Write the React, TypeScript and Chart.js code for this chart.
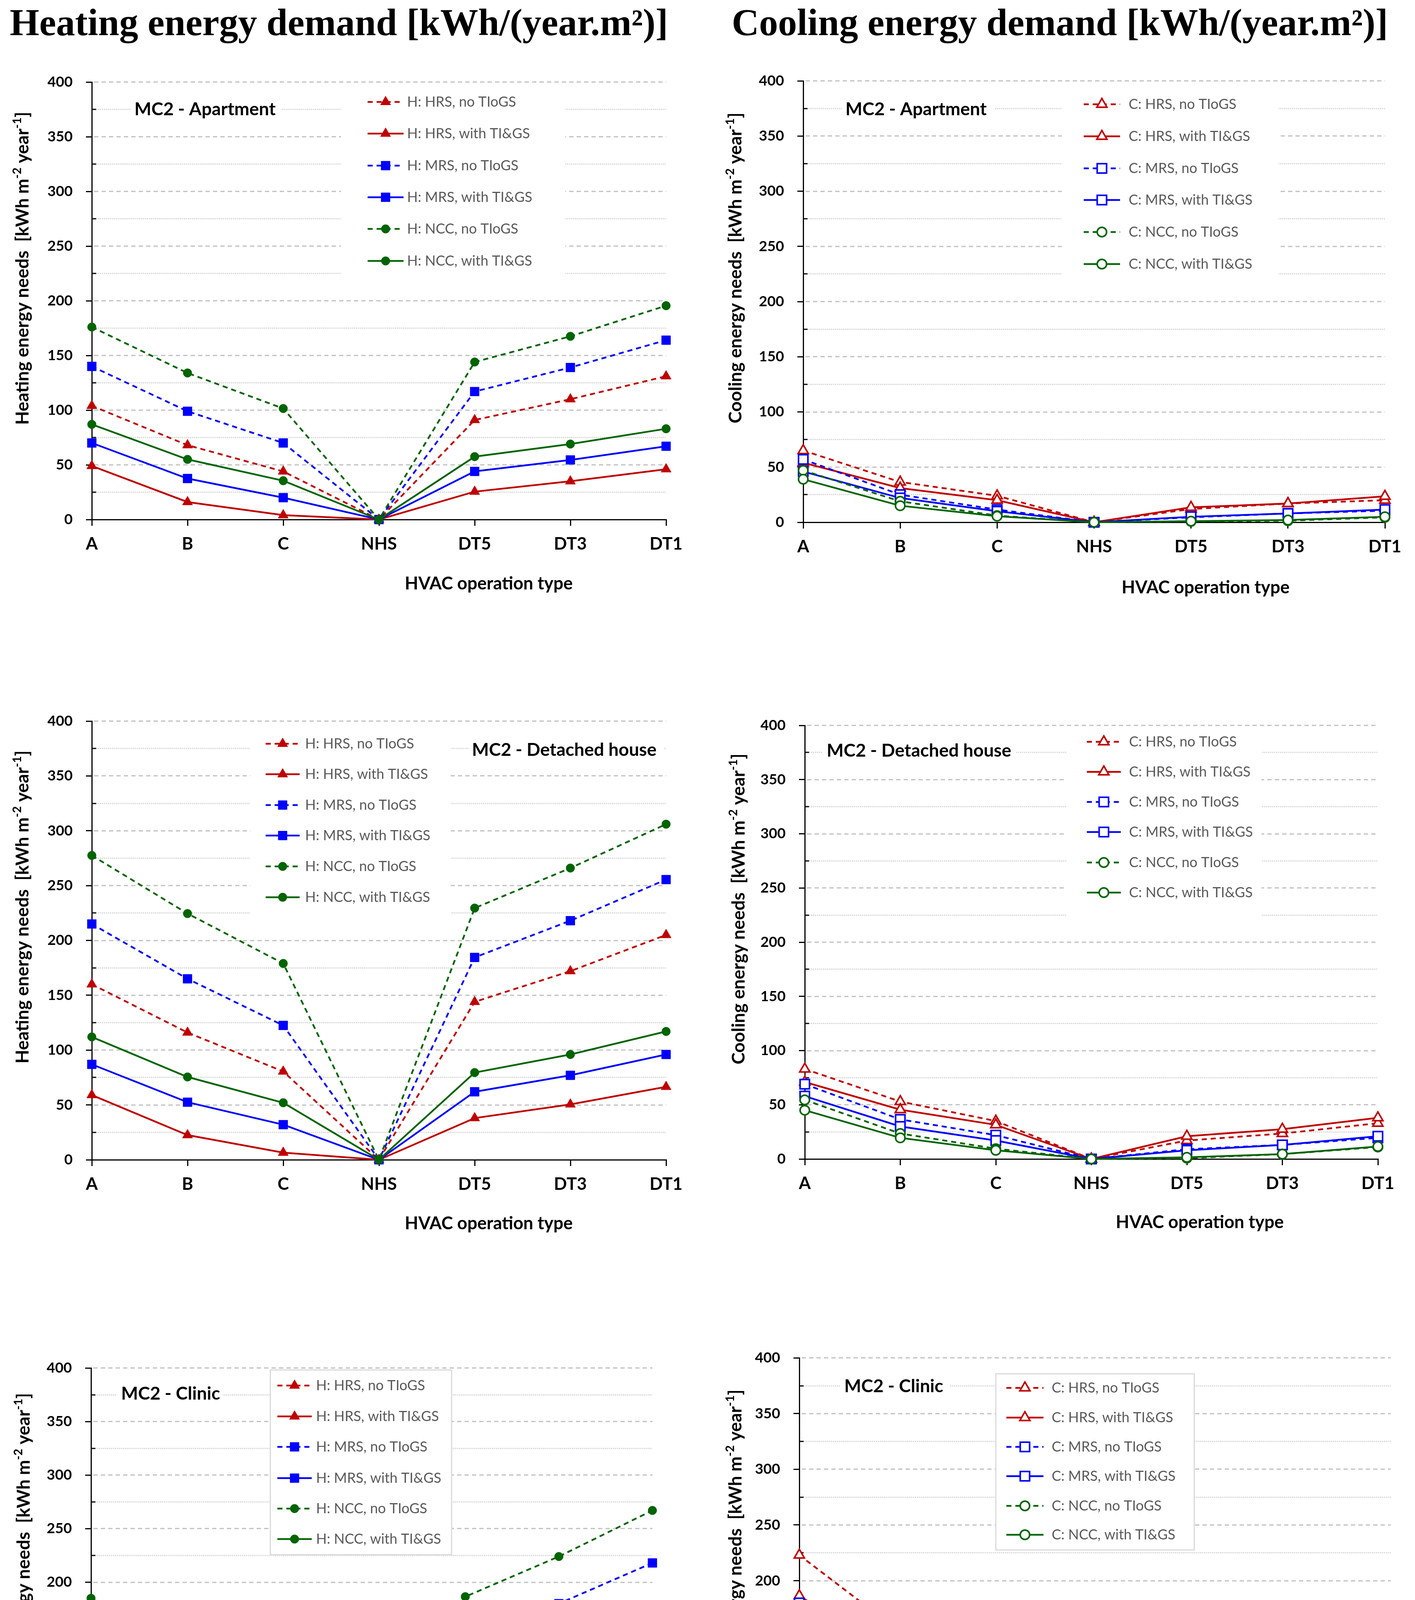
import React, { useEffect, useRef } from 'react';
import { Chart, registerables } from 'chart.js';
import { drawPoint } from 'chart.js/helpers';

Chart.register(...registerables);

// ---------- data ----------
const categories = ['A', 'B', 'C', 'NHS', 'DT5', 'DT3', 'DT1'];
const yTickValues = [0, 50, 100, 150, 200, 250, 300, 350, 400];
const minorGridValues = [25, 75, 125, 175, 225, 275, 325, 375];

const heatingLabels = ['H: HRS, no TIoGS', 'H: HRS, with TI&GS', 'H: MRS, no TIoGS', 'H: MRS, with TI&GS', 'H: NCC, no TIoGS', 'H: NCC, with TI&GS'];
const coolingLabels = ['C: HRS, no TIoGS', 'C: HRS, with TI&GS', 'C: MRS, no TIoGS', 'C: MRS, with TI&GS', 'C: NCC, no TIoGS', 'C: NCC, with TI&GS'];

// Heating – Apartment
const hApHrsNo = [104, 68, 44, 0, 91, 110, 131];
const hApHrsWith = [49, 16, 4, 0, 25.5, 35, 46];
const hApMrsNo = [140, 99, 70, 0, 117, 139, 164];
const hApMrsWith = [70, 37.5, 20, 0, 44, 54.5, 67];
const hApNccNo = [176, 134, 101.5, 0, 144, 167.5, 195.5];
const hApNccWith = [87, 55, 35.5, 0, 57.5, 69, 83];

// Cooling – Apartment
const cApHrsNo = [65, 36.5, 24, 0, 12, 17, 20];
const cApHrsWith = [54, 31, 20, 0, 13.5, 17, 23.5];
const cApMrsNo = [57, 25, 11.5, 0, 4.5, 8, 10.5];
const cApMrsWith = [46, 22, 10, 0, 5, 8, 11.5];
const cApNccNo = [47, 19, 6, 0, 0.8, 1.4, 4.5];
const cApNccWith = [39, 15, 5.5, 0, 1, 2, 5];

// Heating – Detached house
const hDhHrsNo = [160, 116, 80.5, 0, 144, 172, 205];
const hDhHrsWith = [59, 22.5, 6.5, 0, 38, 50.5, 66.5];
const hDhMrsNo = [215, 165, 122.5, 0, 184.5, 218, 255.5];
const hDhMrsWith = [87, 52.5, 32, 0, 62, 77, 96];
const hDhNccNo = [277.5, 224.5, 179, 0, 229.5, 266, 306];
const hDhNccWith = [112, 75.5, 52, 0, 79.5, 96, 117];

// Cooling – Detached house
const cDhHrsNo = [83, 53, 35, 0, 17, 23.5, 33];
const cDhHrsWith = [71, 45.5, 31.5, 0, 21, 27.5, 38];
const cDhMrsNo = [69, 36.5, 22, 0, 9, 13, 19.5];
const cDhMrsWith = [58, 30, 17, 0, 8, 13, 21];
const cDhNccNo = [54.5, 23.5, 9.5, 0, 0.8, 4.5, 11];
const cDhNccWith = [45, 19.5, 8, 0, 1.5, 4.5, 11.5];

// Heating – Clinic
const hClHrsNo = [104, 66, 37.5, 0, 98, 127, 160];
const hClHrsWith = [72.5, 27.5, 7.5, 0, 41.5, 59, 80];
const hClMrsNo = [157, 109.5, 73.5, 0, 146.5, 180, 218];
const hClMrsWith = [107, 56.5, 28, 0, 62, 82, 107];
const hClNccNo = [185, 135, 100, 0, 186.5, 224, 267];
const hClNccWith = [132, 76, 42, 0, 81, 101, 131];

// Cooling – Clinic
const cClHrsNo = [223, 155.5, 108, 0, 55, 67.5, 84];
const cClHrsWith = [186.5, 130.5, 90, 0, 61.5, 75.5, 93.5];
const cClMrsNo = [180, 116, 76, 0, 32.5, 42, 57];
const cClMrsWith = [150.5, 97, 63, 0, 36, 47, 63];
const cClNccNo = [148, 87, 48, 0, 14.5, 21, 33];
const cClNccWith = [123.5, 73, 39, 0, 16, 24, 37.5];

// ---------- styles ----------
const RED = '#C00000';
const BLUE = '#0000FF';
const GREEN = '#006400';
const FONT = 'Lato, "Open Sans", sans-serif';
const seriesColors = [RED, RED, BLUE, BLUE, GREEN, GREEN];
const seriesDashed = [true, false, true, false, true, false];
const seriesShapes = ['triangle', 'triangle', 'rect', 'rect', 'circle', 'circle'];

type Box = { left: number; top: number; width: number; height: number };
type PanelCfg = {
  kind: 'H' | 'C';
  canvas: Box;
  area: { L: number; R: number; T: number; B: number };
  series: number[][];
  label: { text: string; x: number; y: number; boxL: number; boxR: number };
  legend: { boxL: number; boxR: number; boxT: number; boxB: number; border: boolean; rows: number[]; sx1: number; sx2: number; tx: number };
  xTitle: { cx: number; cy: number };
  yTitle: { cx: number; cy: number };
};

const panels: PanelCfg[] = [
  {
    kind: 'H',
    canvas: { left: 0, top: 150, width: 1790, height: 1420 },
    area: { L: 235, R: 1705, T: 210, B: 1330 },
    series: [hApHrsNo, hApHrsWith, hApMrsNo, hApMrsWith, hApNccNo, hApNccWith],
    label: { text: 'MC2 - Apartment', x: 344, y: 280, boxL: 335, boxR: 720 },
    legend: { boxL: 873, boxR: 1447, boxT: 232, boxB: 735, border: false, rows: [261, 342, 424, 505, 586, 668], sx1: 941, sx2: 1033, tx: 1042 },
    xTitle: { cx: 1251, cy: 1494 },
    yTitle: { cx: 57, cy: 687 },
  },
  {
    kind: 'C',
    canvas: { left: 1810, top: 150, width: 1812, height: 1420 },
    area: { L: 2056, R: 3545, T: 207, B: 1337 },
    series: [cApHrsNo, cApHrsWith, cApMrsNo, cApMrsWith, cApNccNo, cApNccWith],
    label: { text: 'MC2 - Apartment', x: 2164, y: 280, boxL: 2155, boxR: 2545 },
    legend: { boxL: 2718, boxR: 3273, boxT: 232, boxB: 738, border: false, rows: [267, 349, 431, 512, 594, 676], sx1: 2774, sx2: 2867, tx: 2889 },
    xTitle: { cx: 3086, cy: 1504 },
    yTitle: { cx: 1882, cy: 686 },
  },
  {
    kind: 'H',
    canvas: { left: 0, top: 1780, width: 1790, height: 1420 },
    area: { L: 235, R: 1705, T: 1846, B: 2969 },
    series: [hDhHrsNo, hDhHrsWith, hDhMrsNo, hDhMrsWith, hDhNccNo, hDhNccWith],
    label: { text: 'MC2 - Detached house', x: 1208, y: 1920, boxL: 1200, boxR: 1700 },
    legend: { boxL: 641, boxR: 1154, boxT: 1868, boxB: 2352, border: false, rows: [1904, 1982, 2061, 2139, 2218, 2297], sx1: 680, sx2: 767, tx: 781 },
    xTitle: { cx: 1251, cy: 3132 },
    yTitle: { cx: 57, cy: 2322 },
  },
  {
    kind: 'C',
    canvas: { left: 1810, top: 1780, width: 1812, height: 1420 },
    area: { L: 2060, R: 3527, T: 1857, B: 2967 },
    series: [cDhHrsNo, cDhHrsWith, cDhMrsNo, cDhMrsWith, cDhNccNo, cDhNccWith],
    label: { text: 'MC2 - Detached house', x: 2116, y: 1922, boxL: 2105, boxR: 2600 },
    legend: { boxL: 2730, boxR: 3229, boxT: 1868, boxB: 2356, border: false, rows: [1899, 1976, 2053, 2130, 2208, 2285], sx1: 2782, sx2: 2869, tx: 2890 },
    xTitle: { cx: 3071, cy: 3129 },
    yTitle: { cx: 1890, cy: 2327 },
  },
  {
    kind: 'H',
    canvas: { left: 0, top: 3420, width: 1790, height: 1400 },
    area: { L: 233, R: 1670, T: 3502, B: 4599 },
    series: [hClHrsNo, hClHrsWith, hClMrsNo, hClMrsWith, hClNccNo, hClNccWith],
    label: { text: 'MC2 - Clinic', x: 310, y: 3568, boxL: 300, boxR: 570 },
    legend: { boxL: 692, boxR: 1156, boxT: 3507, boxB: 3980, border: true, rows: [3547, 3626, 3704, 3784, 3862, 3940], sx1: 710, sx2: 798, tx: 809 },
    xTitle: { cx: 1228, cy: 4757 },
    yTitle: { cx: 60, cy: 3967 },
  },
  {
    kind: 'C',
    canvas: { left: 1810, top: 3420, width: 1812, height: 1411 },
    area: { L: 2046, R: 3560, T: 3475, B: 4617 },
    series: [cClHrsNo, cClHrsWith, cClMrsNo, cClMrsWith, cClNccNo, cClNccWith],
    label: { text: 'MC2 - Clinic', x: 2161, y: 3549, boxL: 2150, boxR: 2430 },
    legend: { boxL: 2549, boxR: 3057, boxT: 3517, boxB: 3968, border: true, rows: [3553, 3629, 3704, 3779, 3855, 3929], sx1: 2576, sx2: 2671, tx: 2692 },
    xTitle: { cx: 3098, cy: 4780 },
    yTitle: { cx: 1882, cy: 3955 },
  },
];

function line(ctx: CanvasRenderingContext2D, x1: number, y1: number, x2: number, y2: number) {
  ctx.beginPath();
  ctx.moveTo(x1, y1);
  ctx.lineTo(x2, y2);
  ctx.stroke();
}

function makePlugin(cfg: PanelCfg) {
  const ox = cfg.canvas.left;
  const oy = cfg.canvas.top;
  return {
    id: 'panelDecor',
    beforeDatasetsDraw(chart: any) {
      const ctx: CanvasRenderingContext2D = chart.ctx;
      const ys = chart.scales.y;
      const { left, right } = chart.chartArea;
      ctx.save();
      ctx.lineWidth = 3;
      ctx.strokeStyle = '#d4d4d4';
      ctx.setLineDash([3, 2]);
      for (const v of minorGridValues) {
        const py = Math.round(ys.getPixelForValue(v));
        line(ctx, left + 6, py, right, py);
      }
      ctx.strokeStyle = '#bfbfbf';
      ctx.setLineDash([11, 8]);
      for (const v of yTickValues) {
        if (v === 0) continue;
        const py = Math.round(ys.getPixelForValue(v));
        line(ctx, left + 6, py, right, py);
      }
      ctx.setLineDash([]);
      ctx.strokeStyle = '#000';
      for (const v of minorGridValues) {
        const py = Math.round(ys.getPixelForValue(v));
        line(ctx, left, py, left + 11, py);
      }
      ctx.restore();
    },
    afterDatasetsDraw(chart: any) {
      const ctx: CanvasRenderingContext2D = chart.ctx;
      ctx.save();
      // panel label
      const lb = cfg.label;
      ctx.fillStyle = '#fff';
      ctx.fillRect(lb.boxL - ox, lb.y - 28 - oy, lb.boxR - lb.boxL, 56);
      ctx.fillStyle = '#000';
      ctx.font = `bold 46px ${FONT}`;
      ctx.textAlign = 'left';
      ctx.textBaseline = 'middle';
      ctx.fillText(lb.text, lb.x - ox, lb.y - oy);

      // legend
      const lg = cfg.legend;
      ctx.fillStyle = '#fff';
      ctx.fillRect(lg.boxL - ox, lg.boxT - oy, lg.boxR - lg.boxL, lg.boxB - lg.boxT);
      if (lg.border) {
        ctx.strokeStyle = '#d9d9d9';
        ctx.lineWidth = 3;
        ctx.strokeRect(lg.boxL - ox, lg.boxT - oy, lg.boxR - lg.boxL, lg.boxB - lg.boxT);
      }
      chart.data.datasets.forEach((ds: any, i: number) => {
        const ry = lg.rows[i] - oy;
        ctx.strokeStyle = ds.borderColor;
        ctx.lineWidth = ds.borderWidth;
        ctx.setLineDash(ds.borderDash || []);
        line(ctx, lg.sx1 - ox, ry, lg.sx2 - ox, ry);
        ctx.setLineDash([]);
        ctx.fillStyle = ds.pointBackgroundColor;
        ctx.strokeStyle = ds.pointBorderColor;
        ctx.lineWidth = ds.pointBorderWidth;
        drawPoint(ctx, { pointStyle: ds.pointStyle, radius: ds.pointRadius, borderWidth: ds.pointBorderWidth, rotation: 0 } as any, (lg.sx1 + lg.sx2) / 2 - ox, ry);
        ctx.fillStyle = '#595959';
        ctx.font = `36px ${FONT}`;
        ctx.textAlign = 'left';
        ctx.textBaseline = 'middle';
        ctx.fillText(ds.label, lg.tx - ox, ry);
      });
      ctx.restore();
    },
    afterDraw(chart: any) {
      const ctx: CanvasRenderingContext2D = chart.ctx;
      ctx.save();
      // x title
      ctx.fillStyle = '#000';
      ctx.font = `bold 45px ${FONT}`;
      ctx.textAlign = 'center';
      ctx.textBaseline = 'middle';
      ctx.fillText('HVAC operation type', cfg.xTitle.cx - ox, cfg.xTitle.cy - oy);
      // y title with superscripts
      const parts = [
        { t: (cfg.kind === 'H' ? 'Heating' : 'Cooling') + ' energy needs  [kWh m', sup: false },
        { t: '-2', sup: true },
        { t: ' year', sup: false },
        { t: '-1', sup: true },
        { t: ']', sup: false },
      ];
      const baseFont = `bold 46px ${FONT}`;
      const supFont = `bold 30px ${FONT}`;
      let total = 0;
      const widths = parts.map((p) => {
        ctx.font = p.sup ? supFont : baseFont;
        const w = ctx.measureText(p.t).width;
        total += w;
        return w;
      });
      ctx.translate(cfg.yTitle.cx - ox, cfg.yTitle.cy - oy);
      ctx.rotate(-Math.PI / 2);
      ctx.textAlign = 'left';
      ctx.textBaseline = 'alphabetic';
      let x = -total / 2;
      parts.forEach((p, i) => {
        ctx.font = p.sup ? supFont : baseFont;
        ctx.fillText(p.t, x, p.sup ? -3 : 16);
        x += widths[i];
      });
      ctx.restore();
    },
  };
}

function Panel({ cfg }: { cfg: PanelCfg }) {
  const ref = useRef<HTMLCanvasElement | null>(null);
  useEffect(() => {
    if (!ref.current) return;
    const labels = cfg.kind === 'H' ? heatingLabels : coolingLabels;
    const open = cfg.kind === 'C';
    const datasets = cfg.series.map((data, i) => {
      const shape = seriesShapes[i];
      const r = shape === 'circle' ? (open ? 12 : 11) : shape === 'rect' ? (open ? 17 : 16) : (open ? 15 : 15);
      return {
        label: labels[i],
        data,
        borderColor: seriesColors[i],
        borderWidth: 4.5,
        borderDash: seriesDashed[i] ? [13, 10] : [],
        pointStyle: shape,
        pointRadius: r,
        pointHoverRadius: r,
        pointBackgroundColor: open ? '#ffffff' : seriesColors[i],
        pointBorderColor: seriesColors[i],
        pointBorderWidth: open ? 4 : 1,
        tension: 0,
        fill: false,
        clip: false as any,
        order: 6 - i,
      };
    });
    const c = cfg.canvas;
    const a = cfg.area;
    const chart = new Chart(ref.current, {
      type: 'line',
      data: { labels: categories, datasets },
      plugins: [makePlugin(cfg)],
      options: {
        animation: false,
        responsive: true,
        maintainAspectRatio: false,
        devicePixelRatio: 1,
        events: [],
        layout: { padding: { left: 0, top: a.T - c.top, right: c.left + c.width - a.R, bottom: 0 } },
        plugins: { legend: { display: false }, tooltip: { enabled: false }, title: { display: false } },
        scales: {
          x: {
            type: 'category',
            offset: false,
            afterFit: (s: any) => { s.height = c.top + c.height - a.B; },
            grid: { display: true, drawOnChartArea: false, drawTicks: true, tickLength: 16, tickWidth: 3, tickColor: '#000', color: '#000', lineWidth: 3, offset: false },
            border: { display: true, color: '#000', width: 3 },
            ticks: { color: '#000', font: { family: FONT, size: 44, weight: 'bold' }, padding: 20, maxRotation: 0, autoSkip: false },
          },
          y: {
            type: 'linear',
            min: 0,
            max: 400,
            afterFit: (s: any) => { s.width = a.L - c.left; },
            afterBuildTicks: (s: any) => { s.ticks = yTickValues.map((v) => ({ value: v })); },
            grid: { display: true, drawOnChartArea: false, drawTicks: true, tickLength: 15, tickWidth: 3, tickColor: '#000', color: '#000', lineWidth: 3 },
            border: { display: true, color: '#000', width: 3 },
            ticks: { color: '#000', font: { family: FONT, size: 37, weight: 'bold' }, padding: 34, stepSize: 50 },
          },
        },
      } as any,
    });
    return () => chart.destroy();
  }, [cfg]);
  const c = cfg.canvas;
  return (
    <div style={{ position: 'absolute', left: c.left, top: c.top, width: c.width, height: c.height }}>
      <canvas ref={ref} />
    </div>
  );
}

const titleStyle: React.CSSProperties = {
  position: 'absolute',
  top: 9,
  font: 'bold 97px "Liberation Serif", "DejaVu Serif", serif',
  lineHeight: 1,
  whiteSpace: 'nowrap',
  color: '#000',
  margin: 0,
};

export default function App() {
  return (
    <div style={{ position: 'absolute', left: 0, top: 0, width: 3622, height: 4831, background: '#fff', overflow: 'hidden' }}>
      <div style={{ ...titleStyle, left: 25 }}>Heating energy demand [kWh/(year.m²)]</div>
      <div style={{ ...titleStyle, left: 1873 }}>Cooling energy demand [kWh/(year.m²)]</div>
      {panels.map((p, i) => (
        <Panel key={i} cfg={p} />
      ))}
    </div>
  );
}
